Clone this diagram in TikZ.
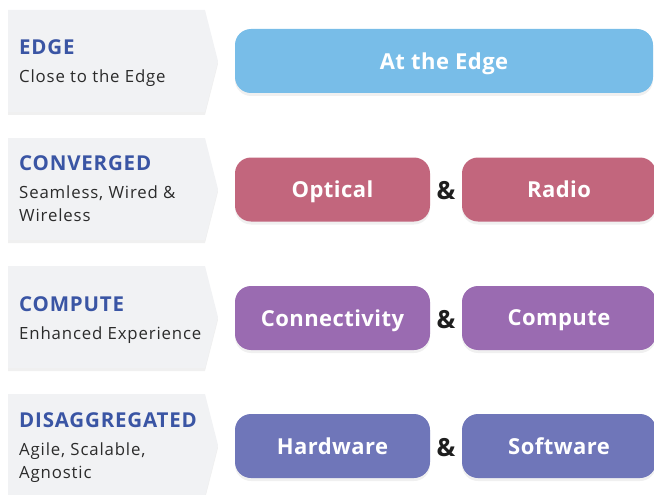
\documentclass[tikz,border=0pt]{standalone}
\usepackage{fontspec}
\setmainfont{Open Sans}
\newfontfamily\headfont[LetterSpace=4]{Open Sans}
\newfontfamily\subfont[LetterSpace=5]{Open Sans}
\newfontfamily\btnfont[LetterSpace=2]{Open Sans}
\usetikzlibrary{shadows}

\definecolor{panelgray}{HTML}{F1F2F4}
\definecolor{headblue}{HTML}{3A55A4}
\definecolor{subtext}{HTML}{2B2B2B}
\definecolor{ampblack}{HTML}{1E1E1E}
\definecolor{edgeblue}{HTML}{78BDE8}
\definecolor{convpink}{HTML}{C2667D}
\definecolor{comppurple}{HTML}{9A6BB1}
\definecolor{disindigo}{HTML}{6F76B9}

\tikzset{
  panel/.style={fill=panelgray, drop shadow={opacity=0.12, shadow xshift=0pt, shadow yshift=-3pt}},
  heading/.style={anchor=base west, inner sep=0pt, text=headblue, font=\headfont\fontsize{20.5}{22}\selectfont\bfseries},
  subline/.style={anchor=base west, inner sep=0pt, text=subtext, font=\subfont\fontsize{16.8}{22.5}\selectfont, align=left},
  btn/.style={rounded corners=16pt, minimum height=64pt, text=white, inner sep=0pt, text depth=0pt,
    font=\btnfont\fontsize{22}{24}\selectfont\bfseries, drop shadow={opacity=0.12, shadow xshift=0pt, shadow yshift=-3pt}},
  amp/.style={text=ampblack, inner sep=0pt, font=\fontsize{25}{25}\selectfont\bfseries}
}

\begin{document}
\begin{tikzpicture}[x=1pt, y=-1pt]

        \useasboundingbox (0,0) rectangle (654,495);

        % Panels
        \fill[panel] (8,10) -- (205,10) -- (218,61) -- (205,112) -- (8,112) -- cycle;
        \fill[panel] (8,138) -- (205,138) -- (218,189) -- (205,240) -- (8,240) -- cycle;
        \fill[panel] (8,266) -- (205,266) -- (218,317) -- (205,368) -- (8,368) -- cycle;
        \fill[panel] (8,394) -- (205,394) -- (218,445) -- (205,496) -- (8,496) -- cycle;

        % Headings
        \node[heading] (edgehead) at (19,55) {EDGE};
        \node[subline] (edgesub) at (19,83) {Close to the Edge};

        \node[heading] (convhead) at (19,171) {CONVERGED};
        \node[subline] (convsub) at (19,221) {Seamless, Wired \&\\Wireless};

        \node[heading] (comphead) at (19,311) {COMPUTE};
        \node[subline] (compsub) at (19,339) {Enhanced Experience};

        \node[heading] (dishead) at (19,427) {DISAGGREGATED};
        \node[subline] (dissub) at (19,478) {Agile, Scalable,\\Agnostic};

        % Buttons
        \node[btn, fill=edgeblue, minimum width=418pt] (edge) at (444,61) {At the Edge};

        \node[btn, fill=convpink, minimum width=195pt] (optical) at (332.5,189.5) {Optical};
        \node[btn, fill=convpink, minimum width=194pt] (radio) at (559,189.5) {Radio};
        \node[amp] (convamp) at (446,191) {\&};

        \node[btn, fill=comppurple, minimum width=195pt] (connect) at (332.5,318) {Connectivity};
        \node[btn, fill=comppurple, minimum width=194pt] (compute) at (559,318) {Compute};
        \node[amp] (compamp) at (446,319.5) {\&};

        \node[btn, fill=disindigo, minimum width=195pt] (hardware) at (332.5,446) {Hardware};
        \node[btn, fill=disindigo, minimum width=194pt] (software) at (559,446) {Software};
        \node[amp] (disamp) at (446,447.5) {\&};

\end{tikzpicture}
\end{document}
